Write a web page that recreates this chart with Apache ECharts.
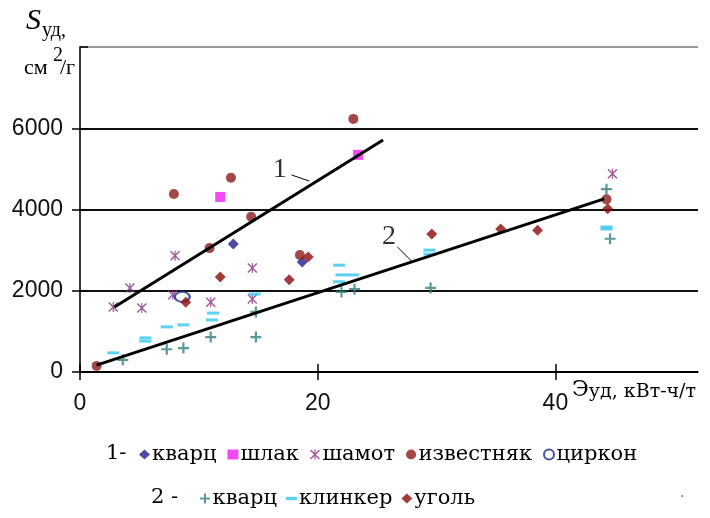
<!DOCTYPE html>
<html>
<head>
<meta charset="utf-8">
<script src="https://cdn.jsdelivr.net/npm/echarts@6/dist/echarts.min.js"></script>
<style>html,body{margin:0;padding:0;background:#fff}#c{width:710px;height:518px}</style>
</head>
<body>
<div id="c"></div>
<script>
// ---- data ----
const xTicks = [0, 20, 40];
const yTicks = [0, 2000, 4000, 6000, 8000];

// group 1
const quartz1X = [12.9, 18.7];
const quartz1Y = [3150, 2710];
const slagX = [11.8, 23.4];
const slagY = [4310, 5345];
const chamotteX = [2.8, 4.2, 5.2, 8.0, 7.8, 11.0, 14.5, 14.5, 44.8];
const chamotteY = [1600, 2070, 1575, 2860, 1900, 1720, 2560, 1800, 4880];
const limestoneX = [1.4, 7.9, 10.9, 12.7, 14.4, 18.5, 23.0, 44.3];
const limestoneY = [150, 4380, 3050, 4780, 3820, 2880, 6230, 4250];
const zirconX = [8.6];
const zirconY = [1850];

// group 2
const quartz2X = [3.6, 7.3, 8.7, 11.0, 14.8, 14.8, 22.0, 23.1, 29.5, 44.3, 44.6];
const quartz2Y = [300, 560, 590, 860, 860, 1480, 1970, 2040, 2070, 4500, 3280];
const clinkerX = [2.8, 5.5, 5.5, 7.3, 8.7, 11.1, 11.2, 14.7, 21.8, 22.0, 23.0, 21.8, 29.4, 29.4, 44.3, 44.3];
const clinkerY = [470, 840, 760, 1110, 1160, 1280, 1450, 1920, 2630, 2390, 2390, 2220, 3000, 2900, 3570, 3520];
const coalX = [8.9, 11.8, 17.6, 19.2, 29.6, 35.4, 38.5, 44.4];
const coalY = [1720, 2340, 2270, 2830, 3400, 3520, 3490, 4020];

// trend lines
const line1X = [2.9, 25.5];
const line1Y = [1600, 5710];
const line2X = [1.4, 44.1];
const line2Y = [170, 4260];
// line labels and leaders
const label1 = [16.8, 4980];
const leader1X = [17.8, 19.3];
const leader1Y = [4850, 4700];
const label2 = [26.0, 3330];
const leader2X = [26.7, 27.9];
const leader2Y = [3080, 2730];

const zip = (xs, ys) => xs.map((x, i) => [x, ys[i]]);

const PLUS = 'path://M4,0H6V10H4ZM0,4H10V6H0Z';
const DASH = 'path://M0,0H10V3H0Z';
const STAR = 'path://M0,1L1,0L10,9L9,10ZM9,0L10,1L1,10L0,9ZM4.4,0H5.6V10H4.4Z';

const SERIF = '"DejaVu Serif","Liberation Serif",serif';
const TSERIF = '"Liberation Serif","DejaVu Serif",serif';
const SANS = '"Liberation Sans",Arial,sans-serif';

function sc(name, data, symbol, size, color, extra) {
  return Object.assign({
    type: 'scatter', name: name, data: data, symbol: symbol, symbolSize: size,
    itemStyle: { color: color }, z: 3
  }, extra || {});
}

const chart = echarts.init(document.getElementById('c'), null, { renderer: 'canvas' });
const option = {
  animation: false,
  backgroundColor: '#fff',
  grid: { left: 80, top: 47, right: 12, bottom: 146, containLabel: false },
  xAxis: [
    {
      type: 'value', min: 0, max: 52, position: 'bottom',
      axisLine: { show: true, onZero: false, lineStyle: { color: '#000', width: 1.5 } },
      axisTick: { show: true, length: 8, customValues: xTicks, lineStyle: { color: '#000', width: 1.5 } },
      axisLabel: { customValues: xTicks, margin: 20, color: '#111', fontFamily: SANS, fontSize: 23,
                   formatter: v => String(v) },
      splitLine: { show: false }
    },
    {
      type: 'value', min: 0, max: 52, position: 'bottom', offset: 0,
      axisLine: { show: false },
      axisTick: { show: true, inside: true, length: 8, customValues: xTicks, lineStyle: { color: '#000', width: 1.5 } },
      axisLabel: { show: false },
      splitLine: { show: false }
    }
  ],
  yAxis: [
    {
      type: 'value', min: yTicks[0], max: yTicks[yTicks.length - 1], interval: 2000, position: 'left',
      axisLine: { show: true, onZero: false, lineStyle: { color: '#000', width: 1.5 } },
      axisTick: { show: true, length: 8, lineStyle: { color: '#000', width: 1.5 } },
      axisLabel: { margin: 17, color: '#111', fontFamily: SANS, fontSize: 23, showMaxLabel: false,
                   formatter: v => String(v) },
      splitLine: { show: true, lineStyle: { color: ['#000', '#111', '#111', '#111', '#999'], width: 2 } }
    },
    {
      type: 'value', min: yTicks[0], max: yTicks[yTicks.length - 1], interval: 2000, position: 'left', offset: 0,
      axisLine: { show: false },
      axisTick: { show: true, inside: true, length: 8, lineStyle: { color: '#000', width: 1.5 } },
      axisLabel: { show: false },
      splitLine: { show: false }
    },
    {
      type: 'value', min: yTicks[0], max: yTicks[yTicks.length - 1], interval: 2000, position: 'right', offset: 0,
      axisLine: { show: true, lineStyle: { color: '#333', width: 1.5 } },
      axisTick: { show: false }, axisLabel: { show: false }, splitLine: { show: false }
    }
  ],
  legend: [
    {
      data: ['кварц (1)', 'шлак', 'шамот', 'известняк', 'циркон'],
      left: 134, top: 439, itemGap: 11, itemWidth: 11, itemHeight: 10, selectedMode: false,
      formatter: n => n.replace(/ \(\d\)$/, ''),
      textStyle: { fontFamily: SERIF, fontSize: 21, color: '#000', padding: [0, 0, 0, -3] }
    },
    {
      data: ['кварц (2)', 'клинкер', 'уголь'],
      left: 195, top: 483, itemGap: 9, itemWidth: 11, itemHeight: 10, selectedMode: false,
      formatter: n => n.replace(/ \(\d\)$/, ''),
      textStyle: { fontFamily: SERIF, fontSize: 21, color: '#000', padding: [0, 0, 0, -3] }
    }
  ],
  series: [
    sc('кварц (1)', zip(quartz1X, quartz1Y), 'diamond', 11, '#1f1f8c'),
    sc('шлак', zip(slagX, slagY), 'rect', 10, '#f01cf0'),
    sc('шамот', zip(chamotteX, chamotteY), STAR, 10, '#86307f'),
    sc('известняк', zip(limestoneX, limestoneY), 'circle', 10, '#8c1a1a'),
    sc('циркон', zip(zirconX, zirconY), 'emptyCircle', [15, 10], '#1a2a8a',
       { itemStyle: { color: '#1a2a8a', borderWidth: 2 } }),
    sc('кварц (2)', zip(quartz2X, quartz2Y), PLUS, 11, '#2f7f7f'),
    sc('клинкер', zip(clinkerX, clinkerY), DASH, [12, 3], '#33c6ee'),
    sc('уголь', zip(coalX, coalY), 'diamond', 11, '#8b0b0b'),
    {
      type: 'line', name: 'trend1', data: zip(line1X, line1Y), symbol: 'none', z: 5,
      lineStyle: { color: '#000', width: 3 }
    },
    {
      type: 'line', name: 'trend2', data: zip(line2X, line2Y), symbol: 'none', z: 5,
      lineStyle: { color: '#000', width: 3 }
    },
    {
      type: 'line', name: 'lead1', data: zip(leader1X, leader1Y), symbol: 'none', z: 5,
      lineStyle: { color: '#000', width: 1 }
    },
    {
      type: 'line', name: 'lead2', data: zip(leader2X, leader2Y), symbol: 'none', z: 5,
      lineStyle: { color: '#000', width: 1 }
    },
    {
      type: 'scatter', name: 'lbl', symbolSize: 1, itemStyle: { color: 'rgba(0,0,0,0)' }, z: 6,
      data: [
        { value: label1, label: { formatter: '1' } },
        { value: label2, label: { formatter: '2' } }
      ],
      label: { show: true, position: 'inside', fontFamily: TSERIF, fontSize: 28, color: '#000' }
    }
  ],
  graphic: [
    { type: 'text', left: 26, top: 6, style: { text: 'S', font: 'italic 30px ' + TSERIF, fill: '#000' } },
    { type: 'text', left: 42, top: 21, style: { text: 'уд,', font: '20px ' + TSERIF, fill: '#000' } },
    { type: 'text', left: 24, top: 57, style: { text: 'см', font: '22px ' + TSERIF, fill: '#000' } },
    { type: 'text', left: 53, top: 46, style: { text: '2', font: '20px ' + TSERIF, fill: '#000' } },
    { type: 'text', left: 60, top: 57, style: { text: '/г', font: '22px ' + TSERIF, fill: '#000' } },
    { type: 'text', left: 572, top: 379, style: {
        text: '{a|Э}{b|уд, кВт-ч/т}',
        rich: { a: { font: '22px ' + SERIF, fill: '#000' }, b: { font: '19px ' + SERIF, fill: '#000', padding: [4, 0, 0, 0] } }
      } },
    { type: 'text', left: 106, top: 443, style: { text: '1-', font: '21px ' + SERIF, fill: '#000' } },
    { type: 'text', left: 151, top: 487, style: { text: '2 -', font: '21px ' + SERIF, fill: '#000' } },
    { type: 'text', left: 680, top: 486, style: { text: '.', font: '14px ' + SERIF, fill: '#777' } }
  ]
};
chart.setOption(option);
</script>
</body>
</html>
